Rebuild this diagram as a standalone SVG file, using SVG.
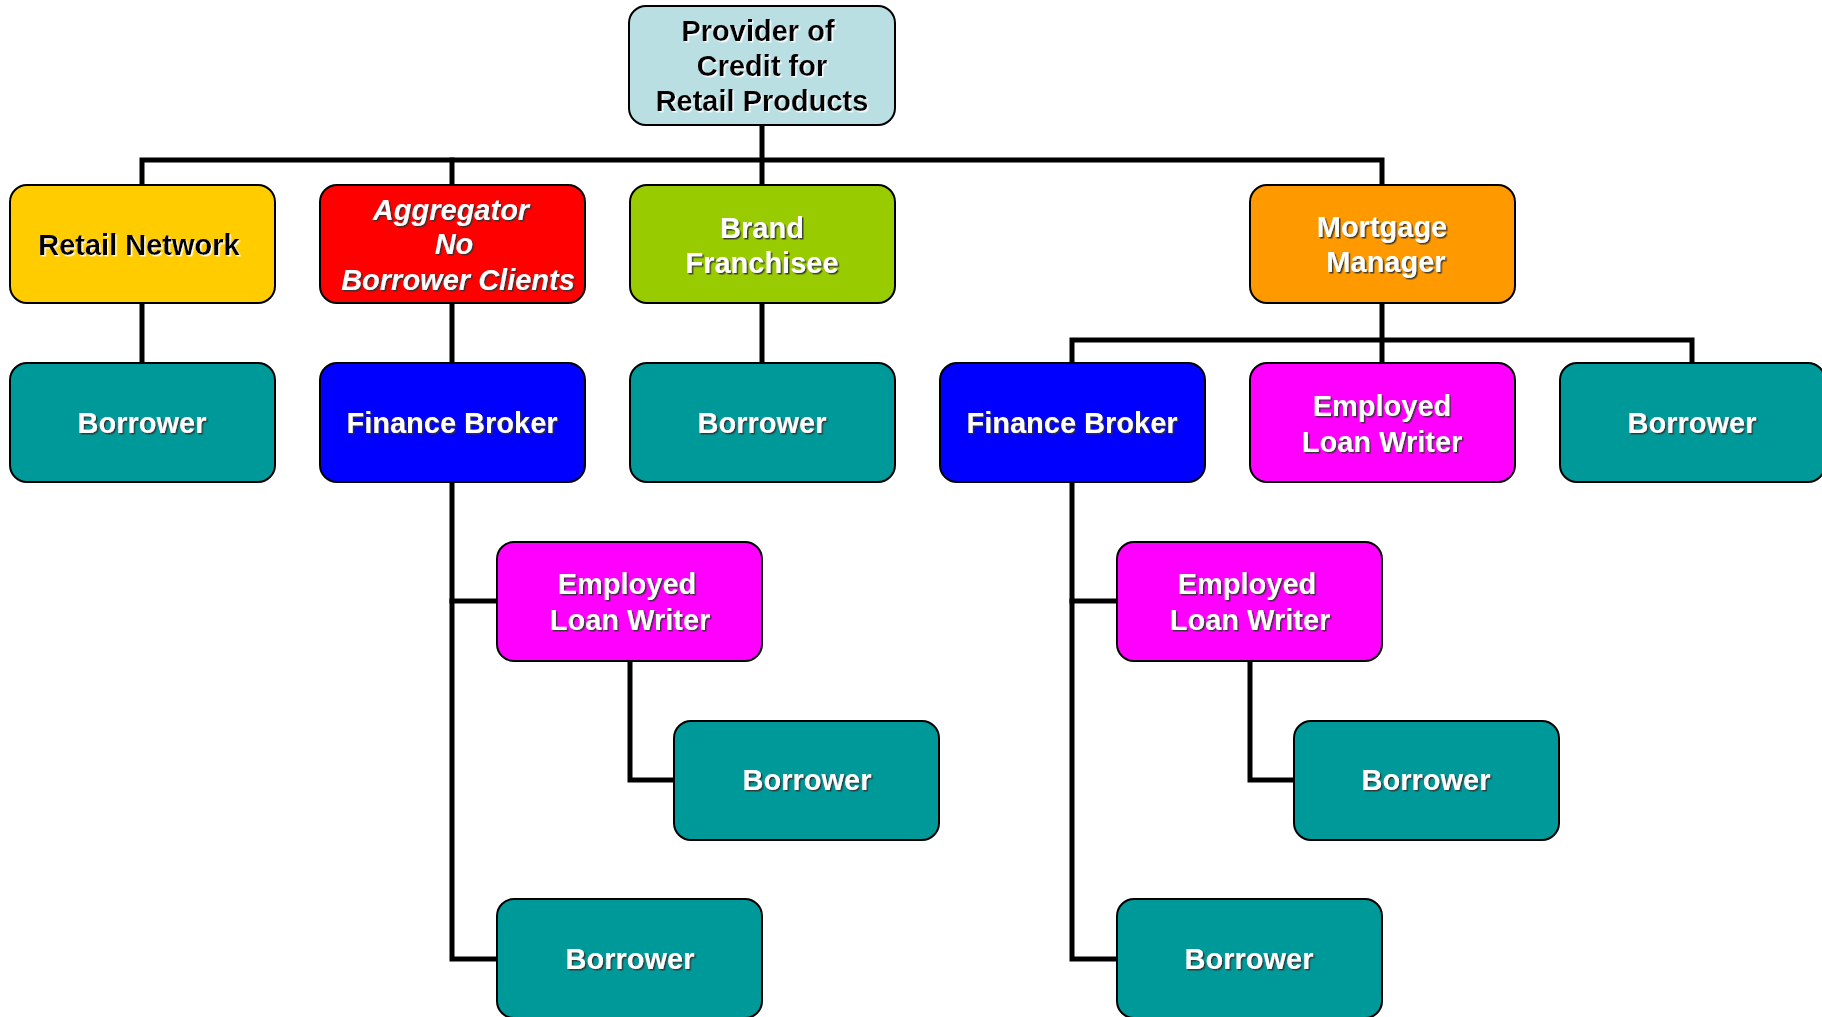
<svg xmlns="http://www.w3.org/2000/svg" width="1822" height="1017" viewBox="0 0 1822 1017">
<style>
  .box { stroke: #000; stroke-width: 2; }
  .t { font-family: "Liberation Sans", Arial, sans-serif; font-weight: bold; font-size: 29px; text-anchor: middle; }
  .w { fill: #fff; filter: url(#sd); }
  .k { fill: #000; filter: url(#sl); }
  .i { font-style: italic; }
  .c { fill: none; stroke: #000; stroke-width: 5; stroke-linejoin: miter; stroke-linecap: square; }
  .prov { fill: #B9DFE3; }
  .retail { fill: #FFCC00; }
  .agg { fill: #FF0000; }
  .brand { fill: #99CC00; }
  .mort { fill: #FF9900; }
  .borr { fill: #009999; }
  .fin { fill: #0000FF; }
  .emp { fill: #FF00FF; }
</style>
<defs>
  <filter id="sd" x="-10%" y="-20%" width="120%" height="150%">
    <feDropShadow dx="1.5" dy="1.5" stdDeviation="0.3" flood-color="#333" flood-opacity="0.9"/>
  </filter>
  <filter id="sl" x="-10%" y="-20%" width="120%" height="150%">
    <feDropShadow dx="1.5" dy="1.5" stdDeviation="0.3" flood-color="#fff" flood-opacity="0.9"/>
  </filter>
</defs>
<rect width="1822" height="1017" fill="#fff"/>
<g id="connectors">
  <path class="c" d="M762 125 V185"/>
  <path class="c" d="M142 185 V160 H1382 V185"/>
  <path class="c" d="M452 160 V185"/>
  <path class="c" d="M142 303 V363"/>
  <path class="c" d="M452 303 V363"/>
  <path class="c" d="M762 303 V363"/>
  <path class="c" d="M1382 303 V363"/>
  <path class="c" d="M1072 363 V340 H1692 V363"/>
  <path class="c" d="M452 482 V959 H497"/>
  <path class="c" d="M452 601 H497"/>
  <path class="c" d="M630 661 V780 H674"/>
  <path class="c" d="M1072 482 V959 H1117"/>
  <path class="c" d="M1072 601 H1117"/>
  <path class="c" d="M1250 661 V780 H1294"/>
</g>
<g id="provider">
  <rect class="box prov" x="629" y="6" width="266" height="119" rx="17"/>
  <text class="t k" x="758" y="41">Provider of</text>
  <text class="t k" x="762" y="76">Credit for</text>
  <text class="t k" x="762" y="111">Retail Products</text>
</g>
<g id="retail-network">
  <rect class="box retail" x="10" y="185" width="265" height="118" rx="17"/>
  <text class="t k" x="139" y="255">Retail Network</text>
</g>
<g id="aggregator">
  <rect class="box agg" x="320" y="185" width="265" height="118" rx="17"/>
  <text class="t w i" x="451" y="220">Aggregator</text>
  <text class="t w i" x="454" y="254">No</text>
  <text class="t w i" x="458" y="290">Borrower Clients</text>
</g>
<g id="brand-franchisee">
  <rect class="box brand" x="630" y="185" width="265" height="118" rx="17"/>
  <text class="t w" x="762" y="238">Brand</text>
  <text class="t w" x="762" y="273">Franchisee</text>
</g>
<g id="mortgage-manager">
  <rect class="box mort" x="1250" y="185" width="265" height="118" rx="17"/>
  <text class="t w" x="1382" y="237">Mortgage</text>
  <text class="t w" x="1386" y="272">Manager</text>
</g>
<g id="borrower-retail">
  <rect class="box borr" x="10" y="363" width="265" height="119" rx="17"/>
  <text class="t w" x="142" y="433">Borrower</text>
</g>
<g id="finance-broker-1">
  <rect class="box fin" x="320" y="363" width="265" height="119" rx="17"/>
  <text class="t w" x="452" y="433">Finance Broker</text>
</g>
<g id="borrower-brand">
  <rect class="box borr" x="630" y="363" width="265" height="119" rx="17"/>
  <text class="t w" x="762" y="433">Borrower</text>
</g>
<g id="finance-broker-2">
  <rect class="box fin" x="940" y="363" width="265" height="119" rx="17"/>
  <text class="t w" x="1072" y="433">Finance Broker</text>
</g>
<g id="employed-loan-writer-mm">
  <rect class="box emp" x="1250" y="363" width="265" height="119" rx="17"/>
  <text class="t w" x="1382" y="416">Employed</text>
  <text class="t w" x="1382" y="452">Loan Writer</text>
</g>
<g id="borrower-mm">
  <rect class="box borr" x="1560" y="363" width="265" height="119" rx="17"/>
  <text class="t w" x="1692" y="433">Borrower</text>
</g>
<g id="employed-loan-writer-1">
  <rect class="box emp" x="497" y="542" width="265" height="119" rx="17"/>
  <text class="t w" x="627" y="594">Employed</text>
  <text class="t w" x="630" y="630">Loan Writer</text>
</g>
<g id="borrower-elw-1">
  <rect class="box borr" x="674" y="721" width="265" height="119" rx="17"/>
  <text class="t w" x="807" y="790">Borrower</text>
</g>
<g id="borrower-fb-1">
  <rect class="box borr" x="497" y="899" width="265" height="119" rx="17"/>
  <text class="t w" x="630" y="969">Borrower</text>
</g>
<g id="employed-loan-writer-2">
  <rect class="box emp" x="1117" y="542" width="265" height="119" rx="17"/>
  <text class="t w" x="1247" y="594">Employed</text>
  <text class="t w" x="1250" y="630">Loan Writer</text>
</g>
<g id="borrower-elw-2">
  <rect class="box borr" x="1294" y="721" width="265" height="119" rx="17"/>
  <text class="t w" x="1426" y="790">Borrower</text>
</g>
<g id="borrower-fb-2">
  <rect class="box borr" x="1117" y="899" width="265" height="119" rx="17"/>
  <text class="t w" x="1249" y="969">Borrower</text>
</g>
</svg>
